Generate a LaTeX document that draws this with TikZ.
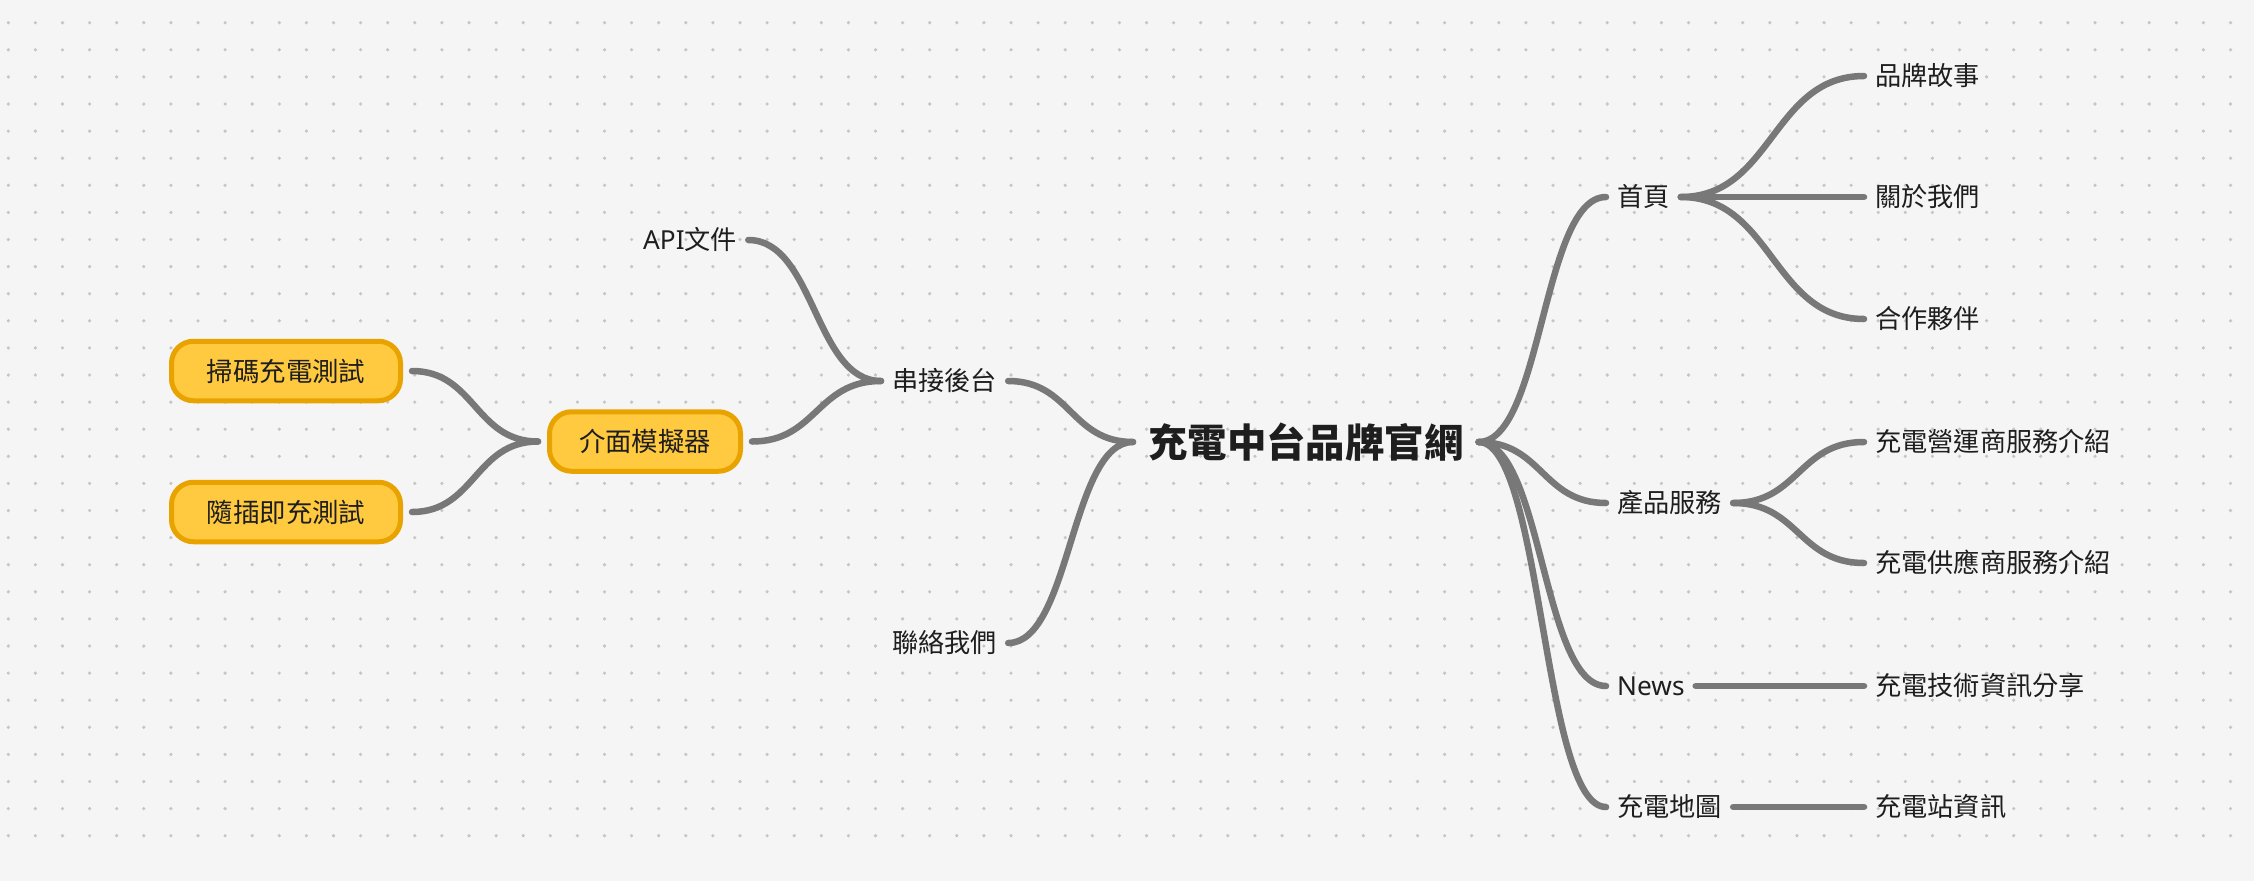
\documentclass[tikz,border=0pt]{standalone}
\usepackage{fontspec}
\newfontfamily\cjk{Noto Sans CJK TC}
\newfontfamily\lat{Noto Sans}
\usetikzlibrary{calc}
\definecolor{bg}{HTML}{F5F5F5}
\definecolor{dotc}{HTML}{C6C6C6}
\definecolor{linec}{HTML}{787878}
\definecolor{txt}{HTML}{1E1E1E}
\definecolor{boxfill}{HTML}{FFC940}
\definecolor{boxedge}{HTML}{E9A300}
\newcommand\mmlink[2]{%
  \path ($(#1)!0.5!(#2)$) coordinate (mm);
  \draw[conn] (#1) .. controls (mm |- #1) and (mm |- #2) .. (#2);}
\begin{document}
\begin{tikzpicture}[x=1pt,y=-1pt,
  lbl/.style={font=\cjk\fontsize{26.2}{30}\selectfont, text=txt, inner xsep=11pt, inner ysep=0pt, text height=23pt, text depth=3.2pt, anchor=west},
  hub/.style={font=\cjk\bfseries\fontsize{39.4}{44}\selectfont, text=txt, inner xsep=15pt, inner ysep=0pt, text height=34.7pt, text depth=4.7pt, anchor=west},
  tagbox/.style={draw=boxedge, fill=boxfill, line width=5pt, rounded corners=22pt, minimum height=59.5pt, inner xsep=0pt, inner ysep=0pt, outer xsep=11.5pt, outer ysep=0pt, font=\cjk\fontsize{26.4}{30}\selectfont, text=txt, text height=23.2pt, text depth=3.2pt},
  conn/.style={draw=linec, line width=6.5pt, line cap=round}
]
\useasboundingbox (0,0) rectangle (2254,881);
\fill[bg] (0,0) rectangle (2254,881);
\foreach \i in {0,...,82}{
  \foreach \j in {0,...,30}{
    \fill[dotc] (8.3+\i*27.1, 22.7+\j*27.1) circle[radius=1.8pt];
  }
}
% center
\node[hub] (hub) at (1133,442) {充電中台品牌官網};
% right side level 1
\node[lbl] (home) at (1606,197) {首頁};
\node[lbl] (prod) at (1606,503) {產品服務};
\node[lbl] (news) at (1606,686) {\lat News};
\node[lbl] (map) at (1606,807) {充電地圖};
% right side level 2
\node[lbl] (story) at (1864,76) {品牌故事};
\node[lbl] (about) at (1864,197) {關於我們};
\node[lbl] (partner) at (1864,319) {合作夥伴};
\node[lbl] (oper) at (1864,442) {充電營運商服務介紹};
\node[lbl] (supp) at (1864,563) {充電供應商服務介紹};
\node[lbl] (tech) at (1864,686) {充電技術資訊分享};
\node[lbl] (station) at (1864,807) {充電站資訊};
% left side
\node[lbl] (back) at (881,381) {串接後台};
\node[lbl] (contact) at (881,643) {聯絡我們};
\node[lbl] (api) at (632,240) {{\lat API}文件};
\node[tagbox, minimum width=191pt] (sim) at (645,441.5) {介面模擬器};
\node[tagbox, minimum width=229pt] (scan) at (286,371) {掃碼充電測試};
\node[tagbox, minimum width=229pt] (plug) at (286,512) {隨插即充測試};
% connectors right
\mmlink{hub.east}{home.west}
\mmlink{hub.east}{prod.west}
\mmlink{hub.east}{news.west}
\mmlink{hub.east}{map.west}
\mmlink{home.east}{story.west}
\mmlink{home.east}{about.west}
\mmlink{home.east}{partner.west}
\mmlink{prod.east}{oper.west}
\mmlink{prod.east}{supp.west}
\mmlink{news.east}{tech.west}
\mmlink{map.east}{station.west}
% connectors left
\mmlink{hub.west}{back.east}
\mmlink{hub.west}{contact.east}
\mmlink{back.west}{api.east}
\mmlink{back.west}{sim.east}
\mmlink{sim.west}{scan.east}
\mmlink{sim.west}{plug.east}
\end{tikzpicture}
\end{document}
